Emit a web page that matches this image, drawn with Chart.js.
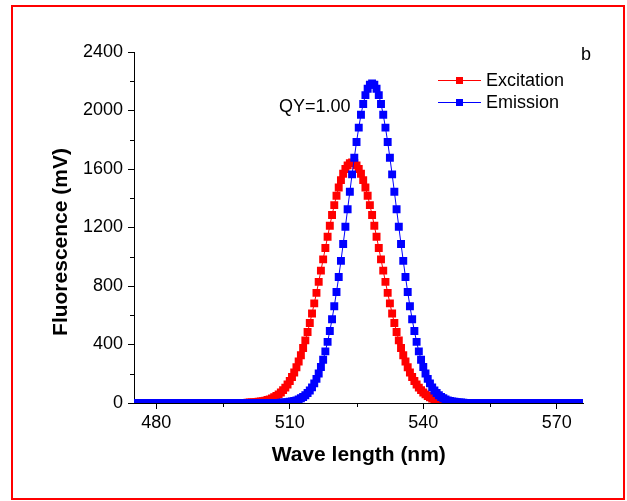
<!DOCTYPE html>
<html>
<head>
<meta charset="utf-8">
<script src="https://cdn.jsdelivr.net/npm/chart.js@4"></script>
<style>
  html, body { margin: 0; padding: 0; background: #fff; }
  canvas { display: block; background: #fff; }
</style>
</head>
<body>
<canvas id="chart" width="627" height="501"></canvas>
<script>
// wavelength grid of the scan (nm)
const wlStart = 475;
const wlStep = 0.5;

// Excitation, 475.0 ... 575.0 nm (mV)
const excitation = [
  0,0,0,0,0,0,0,0,0,0,0,0,0,0,0,0,0,0,0,0,0,0,0,0,
  0,0,0,0,0,0,0,0,0,0,0,0,0,0,0,0,0,0,0,0,0,0,0,0,
  1,1,1,2,3,3,4,6,8,10,12,16,20,25,31,39,48,59,72,88,105,126,150,178,209,
  244,284,327,376,428,485,547,612,681,753,828,905,982,1060,1137,1212,1285,
  1353,1417,1474,1524,1567,1600,1625,1640,1645,
  1640,1625,1600,1567,1524,1474,1417,1353,1285,1212,1137,1060,982,905,828,
  753,681,612,547,485,428,376,327,284,244,209,178,150,126,105,88,72,59,48,
  39,31,25,20,16,12,10,8,6,4,3,3,2,1,1,1,
  0,0,0,0,0,0,0,0,0,0,0,0,0,0,0,0,0,0,0,0,0,0,0,0,0,0,
  0,0,0,0,0,0,0,0,0,0,0,0,0,0,0,0,0,0,0,0,0,0,0,0,0,0
];

// Emission, 475.0 ... 575.0 nm (mV)
const emission = [
  0,0,0,0,0,0,0,0,0,0,0,0,0,0,0,0,0,0,0,0,0,
  0,0,0,0,0,0,0,0,0,0,0,0,0,0,0,0,0,0,0,0,0,
  0,0,0,0,0,0,0,0,0,0,0,0,0,0,0,0,0,0,0,0,0,
  1,1,1,2,3,4,6,8,10,14,18,24,32,41,53,68,86,107,134,165,202,246,296,353,
  418,492,573,662,759,862,972,1087,1205,1325,1445,1563,1677,1785,1883,1971,
  2045,2105,2149,2176,2185,
  2176,2149,2105,2045,1971,1883,1785,1677,1563,1445,1325,1205,1087,972,862,
  759,662,573,492,418,353,296,246,202,165,134,107,86,68,53,41,32,24,18,14,
  10,8,6,4,3,2,1,1,1,
  0,0,0,0,0,0,0,0,0,0,0,0,0,0,0,0,0,0,0,0,0,0,0,0,0,
  0,0,0,0,0,0,0,0,0,0,0,0,0,0,0,0,0,0,0,0,0,0,0,0
];

const seriesNames = ['Excitation', 'Emission'];
const xMajorTicks = [480, 510, 540, 570];
const xMinorTicks = [495, 525, 555];
const yMajorTicks = [0, 400, 800, 1200, 1600, 2000, 2400];
const yMinorTicks = [200, 600, 1000, 1400, 1800, 2200];

const toPoints = arr => arr.map((v, i) => ({ x: wlStart + i * wlStep, y: v }));

Chart.defaults.font.family = "'Liberation Sans', Arial, sans-serif";
Chart.defaults.color = '#000';

const extras = {
  id: 'extras',
  beforeDraw(chart) {
    const c = chart.ctx;
    c.save();
    c.fillStyle = '#fff';
    c.fillRect(0, 0, chart.width, chart.height);
    c.strokeStyle = '#ff0000';
    c.lineWidth = 2;
    c.strokeRect(12, 6, 612, 493);
    c.restore();
  },
  afterDraw(chart) {
    const c = chart.ctx;
    const { x, y } = chart.scales;
    const area = chart.chartArea;
    c.save();
    // minor ticks
    c.strokeStyle = '#000';
    c.lineWidth = 1;
    c.beginPath();
    xMinorTicks.forEach(v => {
      const px = Math.round(x.getPixelForValue(v)) + 0.5;
      c.moveTo(px, area.bottom);
      c.lineTo(px, area.bottom + 4);
    });
    yMinorTicks.forEach(v => {
      const py = Math.round(y.getPixelForValue(v)) + 0.5;
      c.moveTo(area.left - 4, py);
      c.lineTo(area.left, py);
    });
    c.stroke();

    // y title
    c.fillStyle = '#000';
    c.font = "bold 21px 'Liberation Sans', Arial, sans-serif";
    c.textAlign = 'center';
    c.textBaseline = 'middle';
    c.translate(61, 242);
    c.rotate(-Math.PI / 2);
    c.fillText('Fluorescence (mV)', 0, 0);
    c.setTransform(1, 0, 0, 1, 0, 0);

    // legend
    c.font = "18px 'Liberation Sans', Arial, sans-serif";
    c.textAlign = 'left';
    chart.data.datasets.forEach((ds, i) => {
      const ly = 80 + i * 22;
      c.strokeStyle = ds.borderColor;
      c.lineWidth = 1;
      c.beginPath();
      c.moveTo(438, ly + 0.5);
      c.lineTo(481, ly + 0.5);
      c.stroke();
      c.fillStyle = ds.backgroundColor;
      c.fillRect(456, ly - 3, 7, 7);
      c.fillStyle = '#000';
      c.fillText(ds.label, 486, ly + 1);
    });

    c.fillText('QY=1.00', 279, 107);
    c.textBaseline = 'alphabetic';
    c.fillText('b', 581, 60);
    c.restore();
  }
};

new Chart(document.getElementById('chart'), {
  type: 'line',
  data: {
    datasets: [
      {
        label: seriesNames[0],
        data: toPoints(excitation),
        borderColor: '#ff0000',
        backgroundColor: '#ff0000',
        borderWidth: 1,
        pointStyle: 'rect',
        pointRadius: 5.6,
        pointBorderWidth: 0,
        pointBackgroundColor: '#ff0000',
        order: 1
      },
      {
        label: seriesNames[1],
        data: toPoints(emission),
        borderColor: '#0000ff',
        backgroundColor: '#0000ff',
        borderWidth: 1,
        pointStyle: 'rect',
        pointRadius: 5.6,
        pointBorderWidth: 0,
        pointBackgroundColor: '#0000ff',
        order: 0
      }
    ]
  },
  options: {
    responsive: false,
    animation: false,
    devicePixelRatio: 1,
    layout: { padding: { left: 0, top: 52, right: 43.5, bottom: 0 } },
    plugins: { legend: { display: false }, tooltip: { enabled: false } },
    scales: {
      x: {
        type: 'linear',
        min: 475,
        max: 576,
        afterBuildTicks: s => { s.ticks = xMajorTicks.map(v => ({ value: v })); },
        afterFit: s => { s.height = 98; },
        grid: { drawOnChartArea: false, tickLength: 6, color: '#000', tickColor: '#000' },
        border: { color: '#000', width: 1 },
        ticks: {
          font: { size: 18 }, color: '#000', padding: 3, maxRotation: 0, autoSkip: false,
          callback: v => String(v)
        },
        title: {
          display: true,
          text: 'Wave length (nm)',
          color: '#000',
          font: { size: 21, weight: 'bold' },
          padding: { top: 0, bottom: 33 }
        }
      },
      y: {
        min: 0,
        max: 2400,
        afterBuildTicks: s => { s.ticks = yMajorTicks.map(v => ({ value: v })); },
        afterFit: s => { s.width = 134; },
        grid: { drawOnChartArea: false, tickLength: 6, color: '#000', tickColor: '#000' },
        border: { color: '#000', width: 1 },
        ticks: {
          font: { size: 18 }, color: '#000', padding: 5, autoSkip: false,
          callback: v => String(v)
        }
      }
    }
  },
  plugins: [extras]
});
</script>
</body>
</html>
